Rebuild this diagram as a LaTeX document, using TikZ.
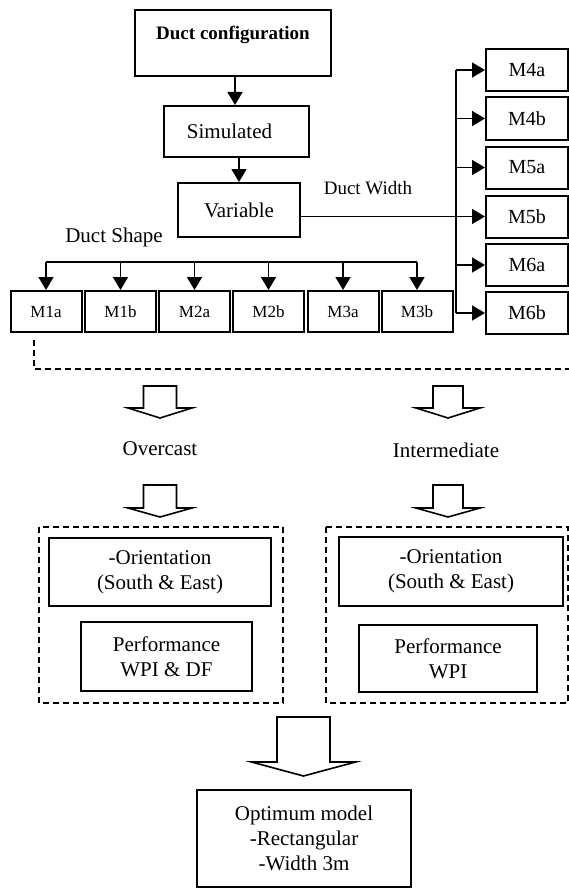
\documentclass[tikz,border=0pt]{standalone}
\usepackage{fontspec}
\usepackage{tikz}
\usetikzlibrary{arrows.meta}
\setmainfont{Liberation Serif}

\begin{document}
\begin{tikzpicture}[x=1pt,y=-1pt,
    box/.style={draw,line width=2pt,inner sep=0pt,align=center,font=\fontsize{21}{25}\selectfont},
    mbox/.style={box,minimum width=71pt,minimum height=41pt,font=\fontsize{17}{19}\selectfont},
    wbox/.style={box,minimum width=82pt,minimum height=42pt,font=\fontsize{20}{22}\selectfont},
    arr/.style={line width=1.7pt,-{Triangle[length=13pt,width=15pt]}},
    link/.style={line width=1.7pt},
    groupbox/.style={line width=1.8pt,dash pattern=on 6pt off 4pt},
    hollow/.style={draw,line width=1.6pt,fill=white},
    lbl/.style={font=\fontsize{21}{25}\selectfont}]
    \useasboundingbox (0,0) rectangle (569,888);
    % top chain
    \node[box,anchor=north,minimum width=196pt,text height=30pt,text depth=36pt,font=\bfseries\fontsize{19}{22}\selectfont] (config) at (233,9) {Duct configuration};
    \node[box,minimum width=145pt,minimum height=51pt] (sim) at (236.5,131.5) {Simulated\hspace*{14pt}};
    \node[box,minimum width=122pt,minimum height=54pt] (var) at (239,210) {Variable};
    \draw[arr] (config.south -| 235,0) -- (sim.north -| 235,0);
    \draw[arr] (sim.south -| 239,0) -- (var.north -| 239,0);
    \node[lbl] (shape) at (114,237) {Duct Shape};
    \node[lbl,font=\fontsize{19}{22}\selectfont] (width) at (368,188) {Duct Width};
    % duct shape models
    \foreach \name/\x in {M1a/46,M1b/120.5,M2a/194.5,M2b/268.5,M3a/343,M3b/417}
      \node[mbox] (\name) at (\x,311.5) {\name};
    \coordinate (bus) at (0,262);
    \draw[link] (M1a |- bus) -- (M3b |- bus);
    \foreach \name in {M1a,M1b,M2a,M2b,M3a,M3b}
      \draw[arr] (\name |- bus) -- (\name.north);
    % duct width models
    \foreach \name/\y in {M4a/70,M4b/118.5,M5a/167.5,M5b/216.5,M6a/265,M6b/313}
      \node[wbox] (\name) at (527,\y) {\name};
    \coordinate (trunk) at (456,216.5);
    \draw[link] (var.east |- M5b) -- (trunk);
    \draw[link] (trunk |- M4a) -- (trunk |- M6b);
    \foreach \name in {M4a,M4b,M5a,M5b,M6a,M6b}
      \draw[arr] (trunk |- \name) -- (\name.west);
    % collecting all models
    \draw[groupbox] (34,340) |- (569,369);
    % hollow arrows
    \foreach \cx/\top/\sw/\sb/\hw/\tip in {160/386/16.5/408/32/418,448/386/15/408/32/418,
        160/485/16.5/508/32/517,448/485/15/508/32/517,303.5/717/26.5/762/52/776}
      \draw[hollow] (\cx-\sw,\top) -- (\cx+\sw,\top) -- (\cx+\sw,\sb) -- (\cx+\hw,\sb)
        -- (\cx,\tip) -- (\cx-\hw,\sb) -- (\cx-\sw,\sb) -- cycle;
    \node[lbl] (overcast) at (160,449) {Overcast};
    \node[lbl] (inter) at (446,450) {Intermediate};
    % sky conditions
    \draw[groupbox] (39,527) rectangle (283,703);
    \draw[groupbox] (326,527) rectangle (568,703);
    \node[box,minimum width=222pt,minimum height=68pt] (orientL) at (160,572) {-Orientation\\(South \& East)};
    \node[box,minimum width=171pt,minimum height=69pt] (perfL) at (166.5,656.5) {Performance\\WPI \& DF};
    \node[box,minimum width=224pt,minimum height=69pt] (orientR) at (451,571.5) {-Orientation\\(South \& East)};
    \node[box,minimum width=178pt,minimum height=67pt] (perfR) at (448,658.5) {Performance\\WPI};
    % result
    \node[box,minimum width=214pt,minimum height=97pt] (optimum) at (304,838) {Optimum model\\-Rectangular\\-Width 3m};
\end{tikzpicture}
\end{document}
